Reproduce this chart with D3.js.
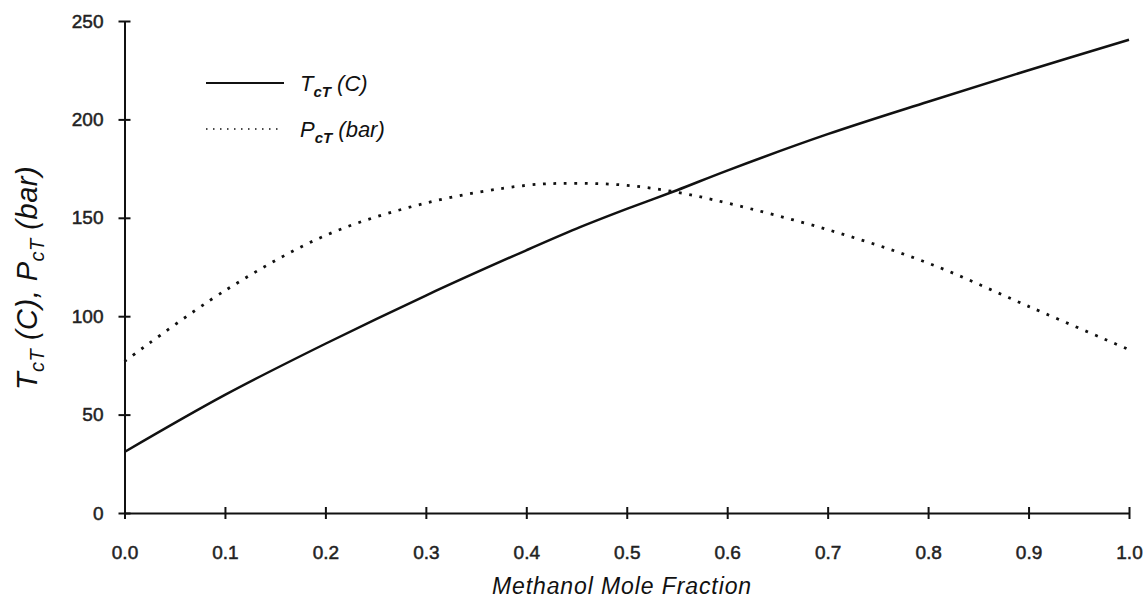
<!DOCTYPE html>
<html>
<head>
<meta charset="utf-8">
<script src="https://cdn.jsdelivr.net/npm/d3@7"></script>
<style>
  body { margin: 0; background: #fff; }
  svg { font-family: "Liberation Sans", Arial, sans-serif; }
  .axis .tick text { font-size: 19px; fill: #222; stroke: #222; stroke-width: 0.5; }
  .axis path, .axis line { stroke: #111; stroke-width: 2; }
</style>
</head>
<body>
<div id="chart"></div>
<script>
// methanol mole fraction
const fractions = [0.0, 0.1, 0.2, 0.3, 0.4, 0.45, 0.5, 0.55, 0.6, 0.7, 0.8, 0.9, 1.0]
// critical temperature (C)
const tempValues = [31, 60, 86, 110.5, 133.5, 144.5, 154.5, 164, 174, 192.5, 209, 225, 240.5]
// critical pressure (bar)
const pressValues = [77, 113, 141, 157.5, 166.5, 167.5, 166.5, 163, 157.5, 144, 127, 105, 83]
const xTicks = [0, 0.1, 0.2, 0.3, 0.4, 0.5, 0.6, 0.7, 0.8, 0.9, 1.0]
const yTicks = [0, 50, 100, 150, 200, 250]

const dimensions = {
  width: 1148,
  height: 603,
  margin: { top: 21, right: 19, bottom: 90, left: 124.5 }
}
dimensions.boundedWidth = dimensions.width - dimensions.margin.left - dimensions.margin.right
dimensions.boundedHeight = dimensions.height - dimensions.margin.top - dimensions.margin.bottom

const svg = d3.select("#chart").append("svg")
  .attr("width", dimensions.width)
  .attr("height", dimensions.height)

const bounds = svg.append("g")
  .attr("transform", `translate(${dimensions.margin.left},${dimensions.margin.top})`)

const xScale = d3.scaleLinear().domain([0, 1]).range([0, dimensions.boundedWidth])
const yScale = d3.scaleLinear().domain([0, 250]).range([dimensions.boundedHeight, 0])

// axes with cross ticks
const xAxis = bounds.append("g")
  .attr("class", "axis")
  .attr("transform", `translate(0,${dimensions.boundedHeight})`)
  .call(d3.axisBottom(xScale).tickValues(xTicks).tickFormat(d3.format(".1f")).tickSizeOuter(0))
xAxis.selectAll(".tick line").attr("y1", -6).attr("y2", 6).attr("stroke-width", 1.5)
xAxis.selectAll(".tick text").attr("y", 46).attr("dy", 0)

const yAxis = bounds.append("g")
  .attr("class", "axis")
  .call(d3.axisLeft(yScale).tickValues(yTicks).tickSizeOuter(0))
yAxis.selectAll(".tick line").attr("x1", -6).attr("x2", 6).attr("stroke-width", 1.5)
yAxis.selectAll(".tick text").attr("x", -21)
xAxis.select(".domain").attr("stroke-width", 2.5)
yAxis.select(".domain").attr("stroke-width", 2.5)

// lines
const curveLine = d3.line()
  .x((d, i) => xScale(fractions[i]))
  .y(d => yScale(d))
  .curve(d3.curveCatmullRom.alpha(0.5))

bounds.append("path")
  .datum(tempValues)
  .attr("fill", "none")
  .attr("stroke", "#111")
  .attr("stroke-width", 2.5)
  .attr("d", curveLine)

bounds.append("path")
  .datum(pressValues)
  .attr("fill", "none")
  .attr("stroke", "#111")
  .attr("stroke-width", 2.8)
  .attr("stroke-dasharray", "2.8,7.7")
  .attr("d", curveLine)

// legend
const legend = svg.append("g")
legend.append("line")
  .attr("x1", 206).attr("x2", 284).attr("y1", 83).attr("y2", 83)
  .attr("stroke", "#111").attr("stroke-width", 2)
legend.append("line")
  .attr("x1", 206).attr("x2", 283).attr("y1", 129).attr("y2", 129)
  .attr("stroke", "#111").attr("stroke-width", 1.5).attr("stroke-dasharray", "1.5,5.5")

const legendItems = [
  { y: 91, main: "T", sub: "cT", rest: " (C)" },
  { y: 137, main: "P", sub: "cT", rest: " (bar)" }
]
legendItems.forEach(item => {
  const t = legend.append("text")
    .attr("x", 300).attr("y", item.y)
    .attr("font-size", 22).attr("font-style", "italic").attr("fill", "#111")
  t.append("tspan").text(item.main)
  t.append("tspan").attr("dy", 6).attr("font-size", 15).attr("font-weight", "bold").text(item.sub)
  t.append("tspan").attr("dy", -6).text(item.rest)
})

// axis titles
svg.append("text")
  .attr("x", 622).attr("y", 594)
  .attr("text-anchor", "middle")
  .attr("font-size", 23).attr("font-style", "italic").attr("fill", "#111")
  .attr("letter-spacing", 0.9)
  .text("Methanol Mole Fraction")

const yTitle = svg.append("text")
  .attr("transform", "translate(37,278) rotate(-90)")
  .attr("text-anchor", "middle")
  .attr("font-size", 29).attr("font-style", "italic").attr("fill", "#111")
  .attr("letter-spacing", 0.5)
yTitle.append("tspan").text("T")
yTitle.append("tspan").attr("dy", 7).attr("font-size", 20).text("cT")
yTitle.append("tspan").attr("dy", -7).text(" (C), P")
yTitle.append("tspan").attr("dy", 7).attr("font-size", 20).text("cT")
yTitle.append("tspan").attr("dy", -7).text(" (bar)")
</script>
</body>
</html>
